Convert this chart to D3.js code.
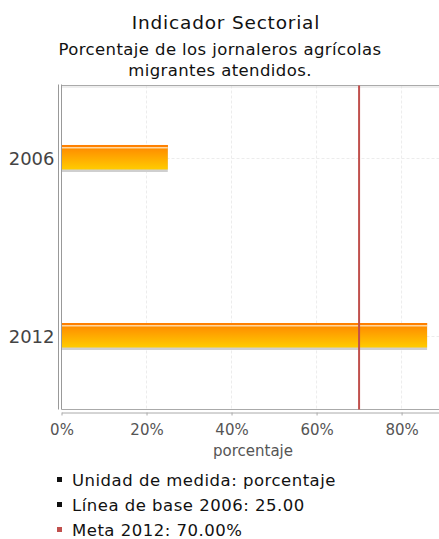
<!DOCTYPE html>
<html><head><meta charset="utf-8">
<script src="https://cdn.jsdelivr.net/npm/d3@7/dist/d3.min.js"></script>
<style>body{margin:0;background:#fff;}svg{display:block;font-family:"DejaVu Sans",sans-serif;}</style>
</head><body><svg id="c" width="439" height="539"></svg>
<script>
const categories = ["2006", "2012"];
const values = [25, 86];
const xTicks = [0, 20, 40, 60, 80];
const goal = 70;
const titleLines = ["Indicador Sectorial"];
const subtitleLines = ["Porcentaje de los jornaleros agrícolas", "migrantes atendidos."];
const axisTitle = "porcentaje";
const legendItems = ["Unidad de medida: porcentaje", "Línea de base 2006: 25.00", "Meta 2012: 70.00%"];
const legendColors = ["#111", "#111", "#c0504d"];

const svg = d3.select("#c");
const L = 61.5, R = 439, T = 85.5, B = 409.5;
const x = d3.scaleLinear().domain([0, 88.8]).range([L, R]);
const y = d3.scalePoint().domain(categories).range([T, B]).padding(0.41);

const defs = svg.append("defs");
const g1 = defs.append("linearGradient").attr("id", "barg").attr("x1", 0).attr("y1", 0).attr("x2", 0).attr("y2", 1);
g1.append("stop").attr("offset", "0%").attr("stop-color", "#ff8400");
g1.append("stop").attr("offset", "100%").attr("stop-color", "#ffcc00");

// title
svg.append("text").attr("x", 226).attr("y", 29).attr("text-anchor", "middle")
  .attr("font-size", 18.5).attr("letter-spacing", 0.8).attr("fill", "#111").text(titleLines[0]);
subtitleLines.forEach((t, i) => svg.append("text").attr("x", 220).attr("y", 55 + i * 21)
  .attr("text-anchor", "middle").attr("font-size", 16.5).attr("letter-spacing", 0.4).attr("fill", "#111").text(t));

// grid
const grid = svg.append("g");
xTicks.filter(d => d > 0).forEach(d => grid.append("line")
  .attr("x1", x(d)).attr("x2", x(d)).attr("y1", T).attr("y2", B)
  .attr("stroke", "#ececec").attr("stroke-dasharray", "3,2"));
categories.forEach(c => grid.append("line")
  .attr("x1", L).attr("x2", R).attr("y1", y(c)).attr("y2", y(c))
  .attr("stroke", "#ececec").attr("stroke-dasharray", "3,2"));

// frame
svg.append("line").attr("x1", L).attr("x2", R).attr("y1", T).attr("y2", T).attr("stroke", "#aaa").attr("stroke-width", 1);
svg.append("line").attr("x1", L).attr("x2", R).attr("y1", T + 1.5).attr("y2", T + 1.5).attr("stroke", "#ddd").attr("stroke-width", 1);
svg.append("line").attr("x1", L).attr("x2", L).attr("y1", T - 1).attr("y2", B).attr("stroke", "#999");
svg.append("line").attr("x1", L - 3).attr("x2", L - 3).attr("y1", T - 1).attr("y2", B).attr("stroke", "#999");
svg.append("line").attr("x1", L).attr("x2", R).attr("y1", B).attr("y2", B).attr("stroke", "#aaa");

// bars
const bars = svg.append("g");
categories.forEach((c, i) => {
  const cy = y(c), x0 = x(0) + 0.5, w = x(values[i]) - x(0) - 0.5;
  bars.append("rect").attr("x", x0).attr("y", cy - 13.5).attr("width", w).attr("height", 27).attr("fill", "#cfcfcf");
  bars.append("rect").attr("x", x0).attr("y", cy - 13.5).attr("width", w).attr("height", 24.5).attr("fill", "url(#barg)");
  bars.append("rect").attr("x", x0).attr("y", cy - 13.5).attr("width", w).attr("height", 2).attr("fill", "#ff8000");
  bars.append("rect").attr("x", x0).attr("y", cy - 11.5).attr("width", w).attr("height", 1.5).attr("fill", "#ffd8a0");
});

// goal line
svg.append("line").attr("x1", x(goal)).attr("x2", x(goal)).attr("y1", T).attr("y2", B)
  .attr("stroke", "#c0504d").attr("stroke-width", 2);

// x axis
const xa = svg.append("g").attr("transform", `translate(0,${B + 3})`)
  .call(d3.axisBottom(x).tickValues(xTicks).tickFormat(d => d + "%").tickSize(3).tickSizeOuter(0));
xa.select(".domain").attr("stroke", "#aaa");
xa.selectAll(".tick line").attr("stroke", "#aaa");
xa.selectAll("text").attr("font-size", 15).attr("fill", "#555").attr("font-family", "DejaVu Sans").attr("dy", "1.1em");

svg.append("text").attr("x", 253).attr("y", 456).attr("text-anchor", "middle")
  .attr("font-size", 15).attr("fill", "#555").text(axisTitle);

// y axis labels
const ya = svg.append("g").attr("transform", `translate(${L - 3},0)`)
  .call(d3.axisLeft(y).tickSize(0).tickPadding(4));
ya.select(".domain").remove();
ya.selectAll("text").attr("font-size", 18).attr("fill", "#444").attr("font-family", "DejaVu Sans");

// legend
legendItems.forEach((t, i) => {
  const ly = 486 + i * 25;
  svg.append("rect").attr("x", 57).attr("y", ly - 9).attr("width", 5).attr("height", 5).attr("fill", legendColors[i]);
  svg.append("text").attr("x", 72).attr("y", ly).attr("font-size", 16.5).attr("letter-spacing", 0.5).attr("fill", "#111").text(t);
});
</script></body></html>
